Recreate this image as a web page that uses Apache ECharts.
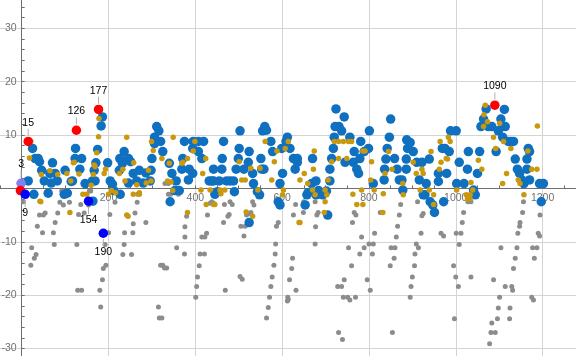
<!DOCTYPE html>
<html><head><meta charset="utf-8">
<script src="https://cdn.jsdelivr.net/npm/echarts@6/dist/echarts.min.js"></script>
<style>html,body{margin:0;padding:0;background:#fff}#c{width:576px;height:356px}</style>
</head><body><div id="c"></div>
<script>
// tick labels
const xTickLabels = [200, 400, 600, 800, 1000, 1200];
const yTickLabels = [-30, -20, -10, 10, 20, 30];

// gray series
const grayPts = [
[4,-2.5],[23,-11.1],[21,-14.4],[29,-13.1],[33,-12.4],[36,-7.1],[41,-5],[50,-5],[54,-4.6],[48,-8.3],[73,-8.3],[75,-10.5],[77,-6.4],[83,-4.6],[88,-2.6],[96,-3.1],[110,-2.6],[127,-10.5],[129,-19.1],[138,-19.1],[131,-4.9],[136,-3],[144,-4.6],[154,-3.1],[180,-19.1],[182,-22.2],[186,-17.1],[188,-15],[194,-14.4],[192,-10.5],[200,-8.3],[203,-4.9],[215,-2.6],[233,-12.4],[236,-10.5],[237,-8.3],[256,-8.3],[257,-6.6],[253,-12.4],[261,-4.6],[266,-2.6],[286,-6.4],[315,-22.2],[317,-24.3],[323,-24.3],[320,-14.4],[325,-14.4],[329,-14.9],[334,-14.9],[338,-1.1],[343,-1.1],[361,-1.1],[357,-11.1],[92,-0.5],[101,-0.5],[98,-1.1],[156,-0.5],[159,-0.5],[330,0.9],[338,0.9],[267,-1.1],
[376,-7.2],[380,-5.2],[376,-9.1],[375,-12.3],[411,-12.3],[421,-12.3],[409,-14.5],[405,-16.6],[403,-18.4],[401,-20.4],[415,-9.1],[422,-9.1],[426,-8.4],[428,-5],[434,-2.8],[442,-2.8],[438,-2.5],[467,-3],[465,-6.4],[478,-4.9],[475,-5.2],[480,-2.5],[485,-3],[469,-19.1],[503,-16.5],[508,-17],[505,-7.1],[515,-7.1],[512,-8.9],[518,-5],[525,-4.7],[528,-4.5],[532,-2.5],[535,-3.1],[587,-7.1],[591,-6.4],[585,-10.4],[584,-12.3],[581,-14.4],[577,-16.6],[574,-18.4],[571,-20.4],[568,-22.3],[564,-24.3],[624,-13.1],[622,-15],[617,-17.1],[613,-20.4],[614,-20.8],[612,-21.1],[632,-19.1],[626,-5],[631,-3],[640,-6.4],[649,-4.5],[650,-2.5],[677,-7.2],[676,-10.4],[680,-5],[683,-4.5],[676,-2.5],[728,-18.4],[737,-18.4],[730,-27],[739,-28.3],[743,-17.1],[741,-20.4],[751,-20.4],[756,-20.9],[769,-20.4],[753,-11.1],[760,-14.5],[762,-6.4],[766,-4.5],[770,-5],[783,-9.1],[789,-11.1],[779,-12.3],[796,-17.1],[803,-19.1],[800,-10.4],[810,-10.4],[808,-12.3],[813,-8.4],
[873,-3],[870,-5],[866,-7.1],[863,-9.1],[851,-11.1],[860,-11.1],[858,-13.1],[849,-14.5],[854,-27],[912,-2.5],[925,-4.7],[922,-5.1],[920,-8.4],[909,-10.4],[914,-11.1],[906,-12.3],[905,-14.5],[900,-16.6],[897,-18.4],[895,-20.4],[939,-2.5],[949,-3],[966,-8.4],[972,-8.9],[995,-14.5],[1000,-16.6],[1006,-18.4],[997,-24.4],[1001,-8.4],[1012,-8.4],[1008,-10.5],[1015,-6.4],[1018,-4.5],[1028,-2.5],[1035,-2.5],[1035,-16.6],[1104,-11.1],[1087,-17.1],[1114,-18.4],[1101,-20.4],[1098,-22.4],[1096,-24.4],[1083,-25.2],[1081,-27],[1091,-27],[1078,-29.1],[1125,-22.4],[1124,-24.4],[1129,-18.4],[1131,-19.1],[1133,-15],[1137,-13.1],[1141,-11.1],[1143,-8.4],[1147,-7.1],[1148,-6.4],[1154,-4.5],[1156,-2.5],[1175,-20.4],[1179,-20.9],[1177,-11.1],[1187,-11.1],[1181,-13.1],[1190,-8.4],[1193,-8.9],[1194,-5],[826,-4.5]
];

// blue series
const bluePts = [
[25,7.5],[31,5.6],[38,5.6],[41,5.0],[46,3.4],[71,4.8],[65,2.8],[77,2.8],[100,3.4],[124,7.5],[123,5.6],[138,5.6],[134,3.6],[171,4.8],[175,7.3],[167,3.4],[198,4.8],[186,13.4],[183,11.7],[311,11.6],[316,10.8],[226,5.6],[236,6.9],[246,5.6],[251,5.0],[232,4.7],[225,3.4],[257,2.8],[271,3.4],[286,2.9],[298,3.4],[300,5.6],[306,8.4],[306,9.6],[320,8.8],[325,6.9],[340,4.7],[346,2.8],[15,1.4],[52,1.4],[68,1.0],[82,1.4],[114,1.3],[117,1.4],[146,0.9],[163,1.4],[169,1.4],[204,1.4],[209,0.8],[246,1.0],[265,1.4],[280,1.0],[296,1.4],[356,1.4],[28,-1.1],[61,-0.9],[98,-1.1],[105,-0.9],[164,-2.4],[212,-0.4],[227,-1.1],[353,-0.4],[363,-0.4],[342,-2.5],
[724,14.9],[743,13.4],[722,11.6],[731,11.6],[737,10.8],[801,10.8],[756,9.6],[720,9.6],[781,8.8],[503,10.8],[560,11.6],[564,10.9],[555,10.8],[612,9.6],[609,8.8],[375,8.8],[395,8.8],[407,8.8],[419,8.8],[465,8.8],[574,8.8],[394,7.5],[407,6.9],[501,7.5],[524,6.9],[578,6.9],[599,7.5],[618,7.5],[718,7.5],[799,7.5],[766,6.9],[789,6.9],
[371,5.6],[415,5.6],[462,5.6],[499,5.6],[551,5.6],[626,5.6],[635,5.6],[670,5.6],[714,5.6],[745,4.9],[764,4.9],[779,5.6],[522,4.9],[635,4.9],
[369,3.6],[386,3.6],[394,2.8],[442,3.6],[461,3.6],[494,3.6],[512,3.6],[532,2.8],[553,3.6],[558,3.6],[601,2.8],[630,3.6],[710,3.6],[772,3.6],[776,2.8],
[384,1.6],[432,1.4],[438,1.4],[442,1.4],[455,1.4],[472,1.4],[480,1.4],[488,1.4],[534,0.9],[595,0.9],[668,0.9],[678,1.4],[710,1.4],[810,0.9],
[445,-1.1],[451,-0.6],[490,-0.6],[543,-0.6],[548,-1.2],[591,-2.5],[595,-3.1],[653,-3.1],[657,-1.2],[678,-1.2],[693,-1.2],[705,-5.0],[524,-6.4],[660,-0.8],[684,-0.4],[702,-0.5],
[850,13],[847,9.6],[842,7.5],[839,5.5],[836,3.6],[835,1.6],[859,5.6],[865,3.6],[870,1.6],[876,1.6],[878,-0.3],[887,9.1],[895,8.6],[889,7.5],[886,5.5],[886,3.6],[902,6.9],[910,4.9],[922,4.9],[916,1.6],[932,0.9],[925,-1.2],[929,-1.2],[939,5.5],[941,-2.5],[951,-4.5],[947,-3.1],[960,2.8],[960,1.3],[969,7.5],[975,7.5],[979,2.8],[972,-2.5],[985,6.9],[988,10.8],[1001,10.8],[1002,0.9],[1008,4.9],[1019,0.9],[1027,3.6],[1029,6.9],[1041,-0.3],[1045,-1.2],[1050,2.8],[1055,6.9],[1058,11.6],[1064,13],[1070,14.9],[1075,11.6],[1083,11.6],[1093,6.9],[1098,10.8],[1104,13],[1112,14.8],[1108,11.6],[1114,11.6],[1108,9.6],[1121,8.8],[1127,8.8],[1133,8.8],[1137,5.5],[1142,3.6],[1147,2.8],[1152,1.6],[1157,0.9],[1164,5.5],[1167,7.5],[1170,6.9],[1164,3.6],[1170,1.6],[1193,0.9],[1202,0.9],[1197,-2.5]
];

// gold series
const goldPts = [
[18,5.7],[21,8.8],[45,2.6],[42,-2.4],[65,3.3],[83,2.6],[104,2.8],[113,1.4],[119,4.8],[121,4.9],[132,2.7],[160,0.6],[165,2.6],[167,4.4],[173,6.7],[177,9.7],[178,13.1],[169,4.1],[190,2.8],[193,3.6],[207,-0.4],[216,-0.8],[225,2.8],[233,3.6],[238,1.4],[258,4.8],[265,0.7],[271,-0.8],[287,1.0],[292,3.4],[298,1.4],[303,7.1],[299,8.8],[242,9.6],[323,5.6],[336,1.4],[340,4.7],[349,9.6],[344,1.2],[348,-0.4],[44,-2.5],[111,-4.5],[141,-1.1],[150,-1.1],[242,-5],[245,-5.2],[200,-1.1],[257,-1.1],[271,-1.1],
[399,8.8],[395,7.0],[424,5.6],[417,2.8],[382,-4.5],[413,-0.3],[425,-3],[442,-3],[445,-3],[434,-0.3],[457,-0.3],[459,-1],[468,-0.3],[507,1.6],[515,1.6],[501,5],[561,8.8],[582,5],[588,7],[607,7.5],[614,8.8],[549,3.8],[528,3.8],[532,-5.2],[517,-4.4],[544,-0.3],[576,1.6],[603,-0.3],[601,-1.2],[641,1.6],[651,2.8],[659,0.9],[672,3.6],[674,7],[670,-0.3],[676,-1.2],[699,-0.3],[703,-1.2],[699,-2.5],[697,-4.5],[639,-6.4],[641,-6.4],[714,5],[720,8.8],[730,8.8],[741,8.8],[753,8.8],[760,8.8],[730,5.6],[749,5.6],[763,-1.1],[772,-3],[786,-3],[786,7],[791,7],[806,5],[804,1.6],[783,-0.3],[812,-0.3],[706,1.6],[371,4.9],[382,5.6],[369,4.7],
[837,2.8],[845,6.9],[853,3.6],[833,-1],[832,-4.5],[878,0.9],[879,-1.2],[902,4.9],[909,2.8],[922,3.6],[925,2.8],[918,-0.3],[943,6.9],[939,-0.3],[949,-1.2],[949,-3],[962,3.6],[964,8.8],[966,4.9],[978,5.6],[981,5.5],[983,9.6],[987,8.8],[1002,-0.3],[1024,-1.2],[1033,-1.2],[1027,-2],[1033,-2],[1035,1.1],[1039,-0.3],[1052,5.3],[1060,3.6],[1065,13.8],[1068,15.6],[1064,11.6],[1073,12.5],[1087,9.6],[1092,7.5],[1101,12.2],[1110,8.8],[1108,0.9],[1117,2.8],[1127,7.5],[1144,1.6],[1157,-1.2],[1166,7],[1175,3.6],[1187,3.6],[1188,11.7],[1148,0.9]
];

// highlighted record points
const redPts = [[-3,-0.4],[15,8.8],[126,10.9],[177,14.8],[1090,15.6]];
const redLabels = ['', '15', '126', '177', '1090'];
const lowPts = [[8,-1.1],[154,-2.4],[188,-8.4]];
const lowLabels = ['9', '154', '190'];
const firstPts = [[-1.5,0.95]];
const firstLabels = ['3'];

const FONT = 'Liberation Sans, Arial, sans-serif';
const richTop = {
  v: {fontSize: 10.5, color: '#000', fontFamily: FONT, lineHeight: 12},
  l: {width: 1, height: 7, lineHeight: 7, fontSize: 1, backgroundColor: '#b0b0b0'}
};
function build(pts, labels) {
  return pts.map((p, i) => ({value: p, lab: labels[i]}));
}
const T = 'rgba(0,0,0,0)';
const X_MIN = -50, X_MAX = 1277, Y_MIN = -32, Y_MAX = 36;
const AX = '#6e6e6e';

const chart = echarts.init(document.getElementById('c'), null, {renderer: 'canvas'});
function makeOption(xOff, yOff) {
  return {
    animation: false,
    backgroundColor: '#fff',
    grid: {left: 0, right: 0, top: -3.7, bottom: -3.2, containLabel: false, outerBoundsMode: 'none'},
    xAxis: {
      type: 'value', min: X_MIN, max: X_MAX, interval: 50, position: 'bottom', offset: xOff,
      axisLine: {onZero: false, lineStyle: {color: AX, width: 1}},
      axisTick: {show: true, inside: true, length: 3, lineStyle: {color: AX}},
      axisLabel: {formatter: v => xTickLabels.includes(v) ? String(v) : '', color: '#707070', fontSize: 10.5, margin: 4, fontFamily: FONT},
      splitLine: {show: true, lineStyle: {color: [T, '#d4d4d4', T, T], width: 1}}
    },
    yAxis: {
      type: 'value', min: Y_MIN, max: Y_MAX, interval: 2, position: 'left', offset: yOff,
      axisLine: {onZero: false, lineStyle: {color: AX, width: 1}},
      axisTick: {show: true, inside: true, length: 3, lineStyle: {color: AX}},
      axisLabel: {formatter: v => yTickLabels.includes(v) ? String(v) : '', color: '#707070', fontSize: 10.5, margin: 5, fontFamily: FONT},
      splitLine: {show: true, lineStyle: {color: [T, '#d4d4d4', T, T, T], width: 1}}
    },
    series: [
      {type: 'scatter', data: grayPts, symbolSize: 5, itemStyle: {color: '#8c8c8c', opacity: 1}, z: 2},
      {type: 'scatter', data: bluePts, symbolSize: 9.5, itemStyle: {color: '#1070c0', opacity: 1}, z: 3},
      {type: 'scatter', data: goldPts, symbolSize: 5.5, itemStyle: {color: '#c8980f', opacity: 1}, z: 4},
      {type: 'scatter', data: build(firstPts, firstLabels), symbolSize: 9.5, itemStyle: {color: '#8080f0', opacity: 1}, z: 5,
        label: {show: true, position: 'top', distance: 1, formatter: p => '{v|' + p.data.lab + '}\n{l| }', rich: richTop}},
      {type: 'scatter', data: build(redPts, redLabels), symbolSize: 9.5, itemStyle: {color: '#ff0000', opacity: 1}, z: 6,
        label: {show: true, position: 'top', distance: 1, formatter: p => p.data.lab ? '{v|' + p.data.lab + '}\n{l| }' : '', rich: richTop}},
      {type: 'scatter', data: build(lowPts, lowLabels), symbolSize: 9.5, itemStyle: {color: '#0000ff', opacity: 1}, z: 6,
        label: {show: true, position: 'bottom', distance: 1, formatter: p => '{l| }\n{v|' + p.data.lab + '}', rich: richTop}}
    ]
  };
}
chart.setOption(makeOption(0, 0));
// move the axes onto the origin using the library's own scales
const zeroX = chart.convertToPixel({xAxisIndex: 0}, 0);
const leftX = chart.convertToPixel({xAxisIndex: 0}, X_MIN);
const zeroY = chart.convertToPixel({yAxisIndex: 0}, 0);
const bottomY = chart.convertToPixel({yAxisIndex: 0}, Y_MIN);
chart.setOption(makeOption(-(bottomY - zeroY), -(zeroX - leftX)));
</script>
</body></html>
